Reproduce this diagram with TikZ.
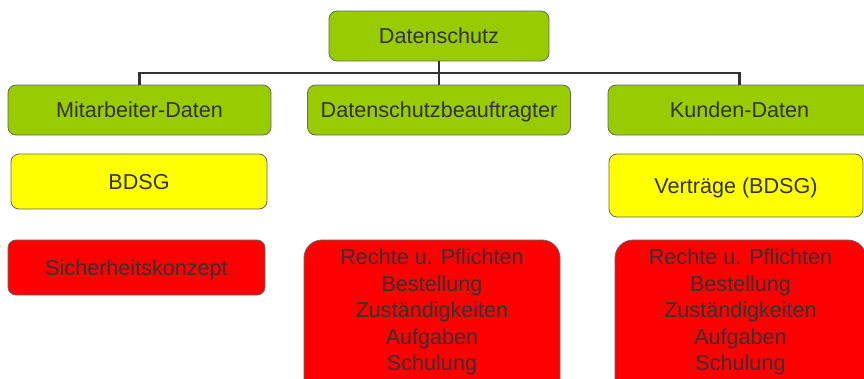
\documentclass[tikz,border=0pt]{standalone}
\usepackage{fontspec}
\setmainfont{Liberation Sans}
\definecolor{gruen}{HTML}{99CC00}
\definecolor{gelb}{HTML}{FFFF00}
\definecolor{rot}{HTML}{FF0000}
\definecolor{schrift}{HTML}{333333}
\definecolor{rand}{HTML}{666666}
\begin{document}
\begin{tikzpicture}[x=1pt,y=-1pt,
  kasten/.style={draw=rand, line width=0.8pt, rounded corners=8pt, inner sep=0pt,
    align=center, text=schrift, font=\fontsize{21.6}{26.5}\selectfont},
  einzeilig/.style={text height=15.5pt, text depth=0pt},
  gruenbox/.style={kasten, einzeilig, fill=gruen, minimum height=50pt},
  gelbbox/.style={kasten, einzeilig, fill=gelb},
  rotbox/.style={kasten, fill=rot},
  linie/.style={draw=schrift, line width=2.6pt}]
\useasboundingbox (0,0) rectangle (864,378);
\clip (0,0) rectangle (864,378);
% oberste Ebene
\node[gruenbox, minimum width=220pt] (ds) at (439,36) {Datenschutz};
\node[gruenbox, minimum width=263pt] (ma) at (139.5,110) {Mitarbeiter-Daten};
\node[gruenbox, minimum width=263pt] (dsb) at (439,110) {Datenschutzbeauftragter};
\node[gruenbox, minimum width=263pt] (kd) at (739.5,110) {Kunden-Daten};
% Gesetze
\node[gelbbox, minimum width=256pt, minimum height=55pt] (bdsg) at (139,181.5) {BDSG};
\node[gelbbox, minimum width=254pt, minimum height=63pt] (vt) at (736,185.5) {Verträge (BDSG)};
% Aufgaben
\node[rotbox, einzeilig, minimum width=257pt, minimum height=55pt] (sk) at (136.5,267.5) {Sicherheitskonzept};
\node[rotbox, rounded corners=18pt, minimum width=256pt, minimum height=160pt] (rp1) at (432,320)
  {Rechte u. Pflichten\\Bestellung\\Zuständigkeiten\\Aufgaben\\Schulung\rule[-20.5pt]{0pt}{0pt}};
\node[rotbox, rounded corners=18pt, minimum width=251pt, minimum height=160pt] (rp2) at (740.5,320)
  {Rechte u. Pflichten\\Bestellung\\Zuständigkeiten\\Aufgaben\\Schulung\rule[-20.5pt]{0pt}{0pt}};
% Verbindungen
\coordinate (bus) at (439,73);
\draw[linie] (ds.south) -- (bus);
\draw[linie] (ma.north) |- (bus) -| (kd.north);
\draw[linie] (bus) -- (dsb.north);
\end{tikzpicture}
\end{document}
